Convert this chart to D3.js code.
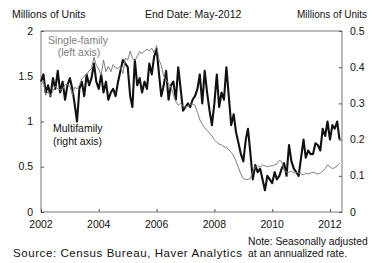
<!DOCTYPE html>
<html>
<head>
<meta charset="utf-8">
<script src="https://cdn.jsdelivr.net/npm/d3@7"></script>
<style>
  body { margin: 0; background: #fff; }
  text { font-family: Arial, "Liberation Sans", sans-serif; fill: #111; }
</style>
</head>
<body>
<script>
// Chart size
var width = 369,
    height = 263;

// Plot box (left/right axis frame)
var plotLeft = 41, plotRight = 342, plotTop = 31, plotBottom = 212;

// Tick labels
var yearTicks = [2002, 2004, 2006, 2008, 2010, 2012];
var leftTicks = [0, 0.5, 1, 1.5, 2];
var rightTicks = [0, 0.1, 0.2, 0.3, 0.4, 0.5];

// Single-family starts, millions SAAR, Jan 2002 - May 2012 (left axis)
var singleFamily = [
  1.41, 1.44, 1.29, 1.33, 1.28, 1.34, 1.39, 1.36, 1.35, 1.36, 1.41, 1.41,
  1.39, 1.29, 1.38, 1.36, 1.40, 1.47, 1.50, 1.52, 1.56, 1.58, 1.71, 1.62,
  1.58, 1.51, 1.68, 1.55, 1.61, 1.55, 1.63, 1.59, 1.59, 1.61, 1.53, 1.70,
  1.68, 1.78, 1.70, 1.67, 1.72, 1.77, 1.75, 1.78, 1.80, 1.78, 1.81, 1.76,
  1.84, 1.68, 1.62, 1.50, 1.46, 1.42, 1.38, 1.30, 1.22, 1.18, 1.20, 1.17,
  1.16, 1.17, 1.19, 1.19, 1.18, 1.10, 1.02, 0.97, 0.93, 0.90, 0.87, 0.84,
  0.80, 0.77, 0.75, 0.74, 0.72, 0.71, 0.69, 0.66, 0.62, 0.56, 0.49, 0.42,
  0.37, 0.36, 0.36, 0.37, 0.45, 0.50, 0.51, 0.50, 0.52, 0.51, 0.50, 0.51,
  0.51, 0.52, 0.53, 0.57, 0.56, 0.46, 0.44, 0.44, 0.45, 0.43, 0.44, 0.43,
  0.42, 0.41, 0.43, 0.42, 0.43, 0.44, 0.43, 0.42, 0.43, 0.45, 0.48, 0.52,
  0.50, 0.48, 0.49, 0.51, 0.54
];

// Multifamily starts, millions SAAR, Jan 2002 - May 2012 (right axis)
var multiFamily = [
  0.36, 0.38, 0.33, 0.35, 0.32, 0.37, 0.34, 0.39, 0.33, 0.36, 0.31, 0.35,
  0.37, 0.34, 0.30, 0.25, 0.34, 0.36, 0.32, 0.38, 0.35, 0.37, 0.41, 0.36,
  0.34, 0.38, 0.33, 0.36, 0.31, 0.33, 0.34, 0.32, 0.36, 0.39, 0.42, 0.41,
  0.40, 0.32, 0.29, 0.42, 0.35, 0.37, 0.33, 0.36, 0.34, 0.41, 0.38, 0.43,
  0.45, 0.38, 0.32, 0.35, 0.39, 0.31, 0.35, 0.36, 0.31, 0.40, 0.34, 0.28,
  0.29, 0.30, 0.29, 0.31, 0.32, 0.34, 0.38, 0.30, 0.39, 0.33, 0.28, 0.24,
  0.30, 0.38, 0.29, 0.33, 0.31, 0.40, 0.32, 0.24, 0.27, 0.22, 0.19, 0.16,
  0.14, 0.20, 0.23, 0.16, 0.09, 0.13, 0.11, 0.12, 0.09, 0.06, 0.10, 0.09,
  0.08, 0.11, 0.09, 0.10, 0.12, 0.135, 0.10, 0.185, 0.14, 0.12, 0.11, 0.10,
  0.15, 0.20, 0.15, 0.17, 0.16, 0.16, 0.19, 0.185, 0.17, 0.23, 0.21, 0.25,
  0.20, 0.24, 0.23, 0.25, 0.20
];

// Month dates for each value
var months = singleFamily.map(function(d, i) { return new Date(2002, i, 1); });

var svg = d3.select("body")
    .append("svg")
    .attr("width", width)
    .attr("height", height);

// Scales
var x = d3.scaleTime()
    .domain([new Date(2002, 0, 1), new Date(2012, 5, 1)])
    .range([plotLeft, plotRight]);

var yLeft = d3.scaleLinear().domain([0, 2]).range([plotBottom, plotTop]);
var yRight = d3.scaleLinear().domain([0, 0.5]).range([plotBottom, plotTop]);

// Frame
svg.append("rect")
    .attr("x", plotLeft)
    .attr("y", plotTop)
    .attr("width", plotRight - plotLeft)
    .attr("height", plotBottom - plotTop)
    .attr("fill", "none")
    .attr("stroke", "#555")
    .attr("stroke-width", 0.8);

// Axes (ticks pointing inward, labels drawn separately)
var xAxis = svg.append("g")
    .attr("transform", "translate(0," + plotBottom + ")")
    .call(d3.axisTop(x)
        .tickValues(yearTicks.map(function(y) { return new Date(y, 0, 1); }))
        .tickSize(3)
        .tickFormat(""));
xAxis.select(".domain").remove();
xAxis.selectAll("line").attr("stroke", "#555");

svg.append("g").selectAll("text")
    .data(yearTicks)
    .enter().append("text")
        .attr("x", function(d) { return x(new Date(d, 0, 1)); })
        .attr("y", 228)
        .attr("text-anchor", "middle")
        .attr("font-size", 10.5)
        .text(function(d) { return d; });

var lAxis = svg.append("g")
    .attr("transform", "translate(" + plotLeft + ",0)")
    .call(d3.axisRight(yLeft).tickValues(leftTicks).tickSize(3).tickFormat(""));
lAxis.select(".domain").remove();
lAxis.selectAll("line").attr("stroke", "#555");

svg.append("g").selectAll("text")
    .data(leftTicks)
    .enter().append("text")
        .attr("x", 33)
        .attr("y", function(d) { return yLeft(d); })
        .attr("dy", "0.35em")
        .attr("text-anchor", "end")
        .attr("font-size", 10.5)
        .text(function(d) { return d; });

var rAxis = svg.append("g")
    .attr("transform", "translate(" + plotRight + ",0)")
    .call(d3.axisLeft(yRight).tickValues(rightTicks).tickSize(3).tickFormat(""));
rAxis.select(".domain").remove();
rAxis.selectAll("line").attr("stroke", "#555");

svg.append("g").selectAll("text")
    .data(rightTicks)
    .enter().append("text")
        .attr("x", 350)
        .attr("y", function(d) { return yRight(d); })
        .attr("dy", "0.35em")
        .attr("font-size", 10.5)
        .text(function(d) { return d; });

// Lines
var lineLeft = d3.line()
    .x(function(d, i) { return x(months[i]); })
    .y(function(d) { return yLeft(d); });

var lineRight = d3.line()
    .x(function(d, i) { return x(months[i]); })
    .y(function(d) { return yRight(d); });

svg.append("path")
    .datum(multiFamily)
    .attr("fill", "none")
    .attr("stroke", "#111")
    .attr("stroke-width", 2.1)
    .attr("stroke-linejoin", "round")
    .attr("d", lineRight);

svg.append("path")
    .datum(singleFamily)
    .attr("fill", "none")
    .attr("stroke", "#808080")
    .attr("stroke-width", 1)
    .attr("d", lineLeft);

// Titles
svg.append("text").attr("x", 12).attr("y", 18).attr("font-size", 10.5)
    .text("Millions of Units");
svg.append("text").attr("x", 145).attr("y", 18).attr("font-size", 10.5)
    .text("End Date: May-2012");
svg.append("text").attr("x", 367).attr("y", 18).attr("font-size", 10)
    .attr("text-anchor", "end")
    .text("Millions of Units");

// Series labels
svg.append("text").attr("x", 78).attr("y", 44).attr("font-size", 10.5)
    .attr("text-anchor", "middle").style("fill", "#808080")
    .text("Single-family");
svg.append("text").attr("x", 79).attr("y", 56).attr("font-size", 10.5)
    .attr("text-anchor", "middle").style("fill", "#808080")
    .text("(left axis)");
svg.append("text").attr("x", 53).attr("y", 132).attr("font-size", 10.5)
    .text("Multifamily");
svg.append("text").attr("x", 53).attr("y", 145).attr("font-size", 10.5)
    .text("(right axis)");

// Footnotes
svg.append("text").attr("x", 13).attr("y", 257).attr("font-size", 11.5)
    .attr("textLength", 229).attr("lengthAdjust", "spacing")
    .text("Source: Census Bureau, Haver Analytics");
svg.append("text").attr("x", 248).attr("y", 245).attr("font-size", 10.3)
    .text("Note: Seasonally adjusted");
svg.append("text").attr("x", 248).attr("y", 257).attr("font-size", 10.3)
    .text("at an annualized rate.");
</script>
</body>
</html>
